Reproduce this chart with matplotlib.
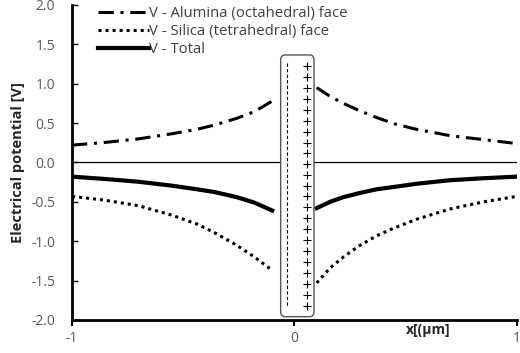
import matplotlib
matplotlib.use("Agg")
import matplotlib.pyplot as plt
from matplotlib.patches import FancyBboxPatch

plt.rcParams['font.family'] = ['Open Sans', 'DejaVu Sans']

# Data
x_left = [-1.0, -0.85, -0.70, -0.55, -0.44, -0.36, -0.26, -0.18, -0.10]
x_right = [0.10, 0.16, 0.22, 0.29, 0.37, 0.45, 0.55, 0.70, 0.85, 1.0]

alumina_left = [0.22, 0.255, 0.30, 0.365, 0.42, 0.475, 0.56, 0.645, 0.78]
alumina_right = [0.95, 0.84, 0.75, 0.66, 0.57, 0.49, 0.42, 0.34, 0.29, 0.24]

silica_left = [-0.43, -0.48, -0.55, -0.67, -0.78, -0.89, -1.05, -1.20, -1.37]
silica_right = [-1.53, -1.34, -1.20, -1.06, -0.93, -0.83, -0.72, -0.59, -0.50, -0.43]

total_left = [-0.18, -0.21, -0.245, -0.295, -0.34, -0.375, -0.44, -0.51, -0.61]
total_right = [-0.58, -0.50, -0.44, -0.39, -0.34, -0.31, -0.27, -0.225, -0.20, -0.18]

plus_y = [1.22, 1.08, 0.94, 0.81, 0.67, 0.53, 0.39, 0.25, 0.12, -0.02,
          -0.16, -0.30, -0.43, -0.57, -0.71, -0.85, -0.99, -1.12, -1.26,
          -1.40, -1.54, -1.68, -1.82]
plus_x = 0.055
dash_x = -0.035

labels = ["V - Alumina (octahedral) face", "V - Silica (tetrahedral) face", "V - Total"]
xticks = [-1, 0, 1]
yticks = [-2.0, -1.5, -1.0, -0.5, 0.0, 0.5, 1.0, 1.5, 2.0]

fig = plt.figure(figsize=(5.2, 3.53), dpi=100)
ax = fig.add_axes([0.1385, 0.0935, 0.8555, 0.8925])

dashdot = (0, (5, 2.2, 1, 2.2))
dotted = (0, (1, 1.3))

l1, = ax.plot(x_left, alumina_left, color='black', lw=2.2, linestyle=dashdot, label=labels[0])
ax.plot(x_right, alumina_right, color='black', lw=2.2, linestyle=dashdot)
l2, = ax.plot(x_left, silica_left, color='black', lw=2.2, linestyle=dotted, label=labels[1])
ax.plot(x_right, silica_right, color='black', lw=2.2, linestyle=dotted)
l3, = ax.plot(x_left, total_left, color='black', lw=3, label=labels[2],
              solid_joinstyle='round')
ax.plot(x_right, total_right, color='black', lw=3, solid_joinstyle='round')

ax.axhline(0, color='black', lw=0.9, zorder=1)

# Clay platelet box
box = FancyBboxPatch((-0.062, -1.958), 0.150, 3.323,
                     boxstyle="round,pad=0,rounding_size=0.02",
                     mutation_aspect=3.3,
                     facecolor='white', edgecolor='#555555', lw=1.0, zorder=3)
ax.add_patch(box)
ax.plot([dash_x, dash_x], [1.26, -1.83], color='black', lw=0.8,
        linestyle=(0, (3, 2)), zorder=4)
ax.plot([plus_x] * len(plus_y), plus_y, linestyle='none', marker='+',
        color='black', markersize=6, mew=0.8, zorder=4)

ax.set_xlim(-1, 1)
ax.set_ylim(-2.0, 2.0)
ax.set_xticks(xticks)
ax.set_xticklabels(['-1', '0', '1'])
ax.set_yticks(yticks)
ax.set_yticklabels([f"{v:.1f}" for v in yticks])

for s in ['top', 'right']:
    ax.spines[s].set_visible(False)
for s in ['left', 'bottom']:
    ax.spines[s].set_linewidth(2.0)
ax.tick_params(axis='y', direction='in', length=4, width=1, colors='black',
               labelcolor='#595959', labelsize=10, pad=12)
ax.tick_params(axis='x', direction='out', length=4, width=1.5, colors='black',
               labelcolor='#595959', labelsize=10, pad=4)

ax.set_ylabel("Electrical potential [V]", fontsize=10.5, fontweight='bold',
              color='#262626')
ax.yaxis.set_label_coords(-0.106, 0.5)
ax.text(0.80, -0.008, "x[(μm]", transform=ax.transAxes, ha='center', va='top',
        fontsize=10, fontweight='bold', color='#262626')

leg = ax.legend(handles=[l1, l2, l3], loc='upper left', bbox_to_anchor=(0.035, 1.03),
                frameon=False, fontsize=10.7, labelspacing=0.2, handlelength=3.4,
                handletextpad=0.0, borderpad=0.2)
for t in leg.get_texts():
    t.set_color('#404040')

fig.savefig("out.png", dpi=100)
